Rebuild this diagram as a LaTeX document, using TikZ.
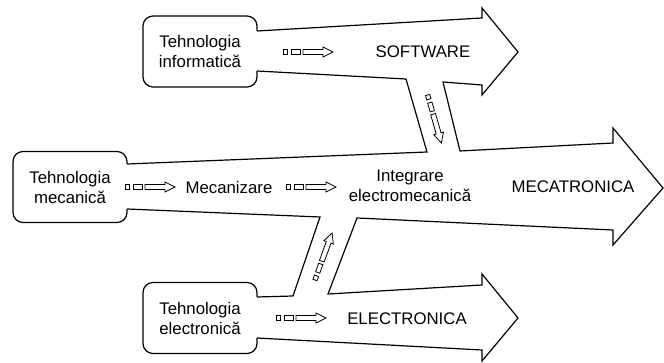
\documentclass[tikz,border=0pt]{standalone}
\usepackage{fontspec}
\setmainfont{Liberation Sans}
\newcommand\diagfont{\fontsize{16.8}{20}\selectfont}
\begin{document}
\begin{tikzpicture}[x=1pt,y=-1pt,
  outline/.style={line width=1.2pt, line join=miter},
  box/.style={draw, line width=1.2pt, rounded corners=10pt, fill=white,
    minimum width=114pt, minimum height=71pt, align=center, inner sep=0pt, font=\diagfont},
  lbl/.style={align=center, font=\diagfont},
  flowmark/.pic={
    \draw[line width=0.8pt] (-25,-2.2) rectangle (-20.5,2.2) (-17,-2.2) rectangle (-8,2.2);
    \draw[line width=0.8pt, line join=miter]
      (-5,-2.5) -- (15,-2.5) -- (15,-5) -- (25,0) -- (15,5) -- (15,2.5) -- (-5,2.5) -- cycle;
  }
]
\useasboundingbox (0,0) rectangle (664,363);

% source boxes
\node[box] (info) at (200,51.5) {Tehnologia\\informatică};
\node[box] (meca) at (70,187) {Tehnologia\\mecanică};
\node[box] (elec) at (200,318) {Tehnologia\\electronică};

% outline points of the big arrows
\coordinate (u1) at (257,31);   \coordinate (l1) at (257,71);
\coordinate (u2) at (482,18);   \coordinate (h1) at (482,8);
\coordinate (t1) at (518,52);   \coordinate (h2) at (482,95);
\coordinate (l2) at (482,85);
\coordinate (br1) at (443,82);  \coordinate (br2) at (460,151);
\coordinate (bl1) at (406,79);  \coordinate (bl2) at (427,152);
\coordinate (mu1) at (127,164); \coordinate (ml1) at (127,209);
\coordinate (mu2) at (613,143); \coordinate (mh1) at (613,128);
\coordinate (mt) at (663,188);  \coordinate (mh2) at (613,245);
\coordinate (ml2) at (613,230);
\coordinate (cr1) at (357,218); \coordinate (cr2) at (328,294);
\coordinate (cl1) at (320,217); \coordinate (cl2) at (293,296);
\coordinate (eu1) at (257,297); \coordinate (el1) at (257,338);
\coordinate (eu2) at (482,285); \coordinate (eh1) at (482,274);
\coordinate (et) at (518,318);  \coordinate (eh2) at (482,361);
\coordinate (el2) at (482,350);

% white body of the arrows, hiding the box sides where they attach
\fill[white] ([xshift=-2pt]u1) -- (u1) -- (u2) -- (h1) -- (t1) -- (h2) -- (l2)
  -- (br1) -- (br2) -- (mu2) -- (mh1) -- (mt) -- (mh2) -- (ml2)
  -- (cr1) -- (cr2) -- (eu2) -- (eh1) -- (et) -- (eh2) -- (el2) -- (el1)
  -- ([xshift=-2pt]el1) -- ([xshift=-2pt]eu1) -- (eu1) -- (cl2) -- (cl1) -- (ml1)
  -- ([xshift=-2pt]ml1) -- ([xshift=-2pt]mu1) -- (mu1) -- (bl2) -- (bl1) -- (l1)
  -- ([xshift=-2pt]l1) -- cycle;

% arrow outlines
\draw[outline] (u1) -- (u2) -- (h1) -- (t1) -- (h2) -- (l2)
  -- (br1) -- (br2) -- (mu2) -- (mh1) -- (mt) -- (mh2) -- (ml2)
  -- (cr1) -- (cr2) -- (eu2) -- (eh1) -- (et) -- (eh2) -- (el2) -- (el1);
\draw[outline] (eu1) -- (cl2) -- (cl1) -- (ml1);
\draw[outline] (mu1) -- (bl2) -- (bl1) -- (l1);

% labels
\node[lbl] (sw) at (423,52) {SOFTWARE};
\node[lbl] (mz) at (229,187) {Mecanizare};
\node[lbl] (ie) at (410,186) {Integrare\\electromecanică};
\node[lbl] (mc) at (573,187) {MECATRONICA};
\node[lbl] (el) at (407,319) {ELECTRONICA};

% small flow marks
\pic at (308,52) {flowmark};
\pic at (150,187) {flowmark};
\pic at (311,187) {flowmark};
\pic at (301,318) {flowmark};
\pic[rotate=-74] at (434.5,119) {flowmark};
\pic[rotate=70] at (323.5,256.5) {flowmark};
\end{tikzpicture}
\end{document}
